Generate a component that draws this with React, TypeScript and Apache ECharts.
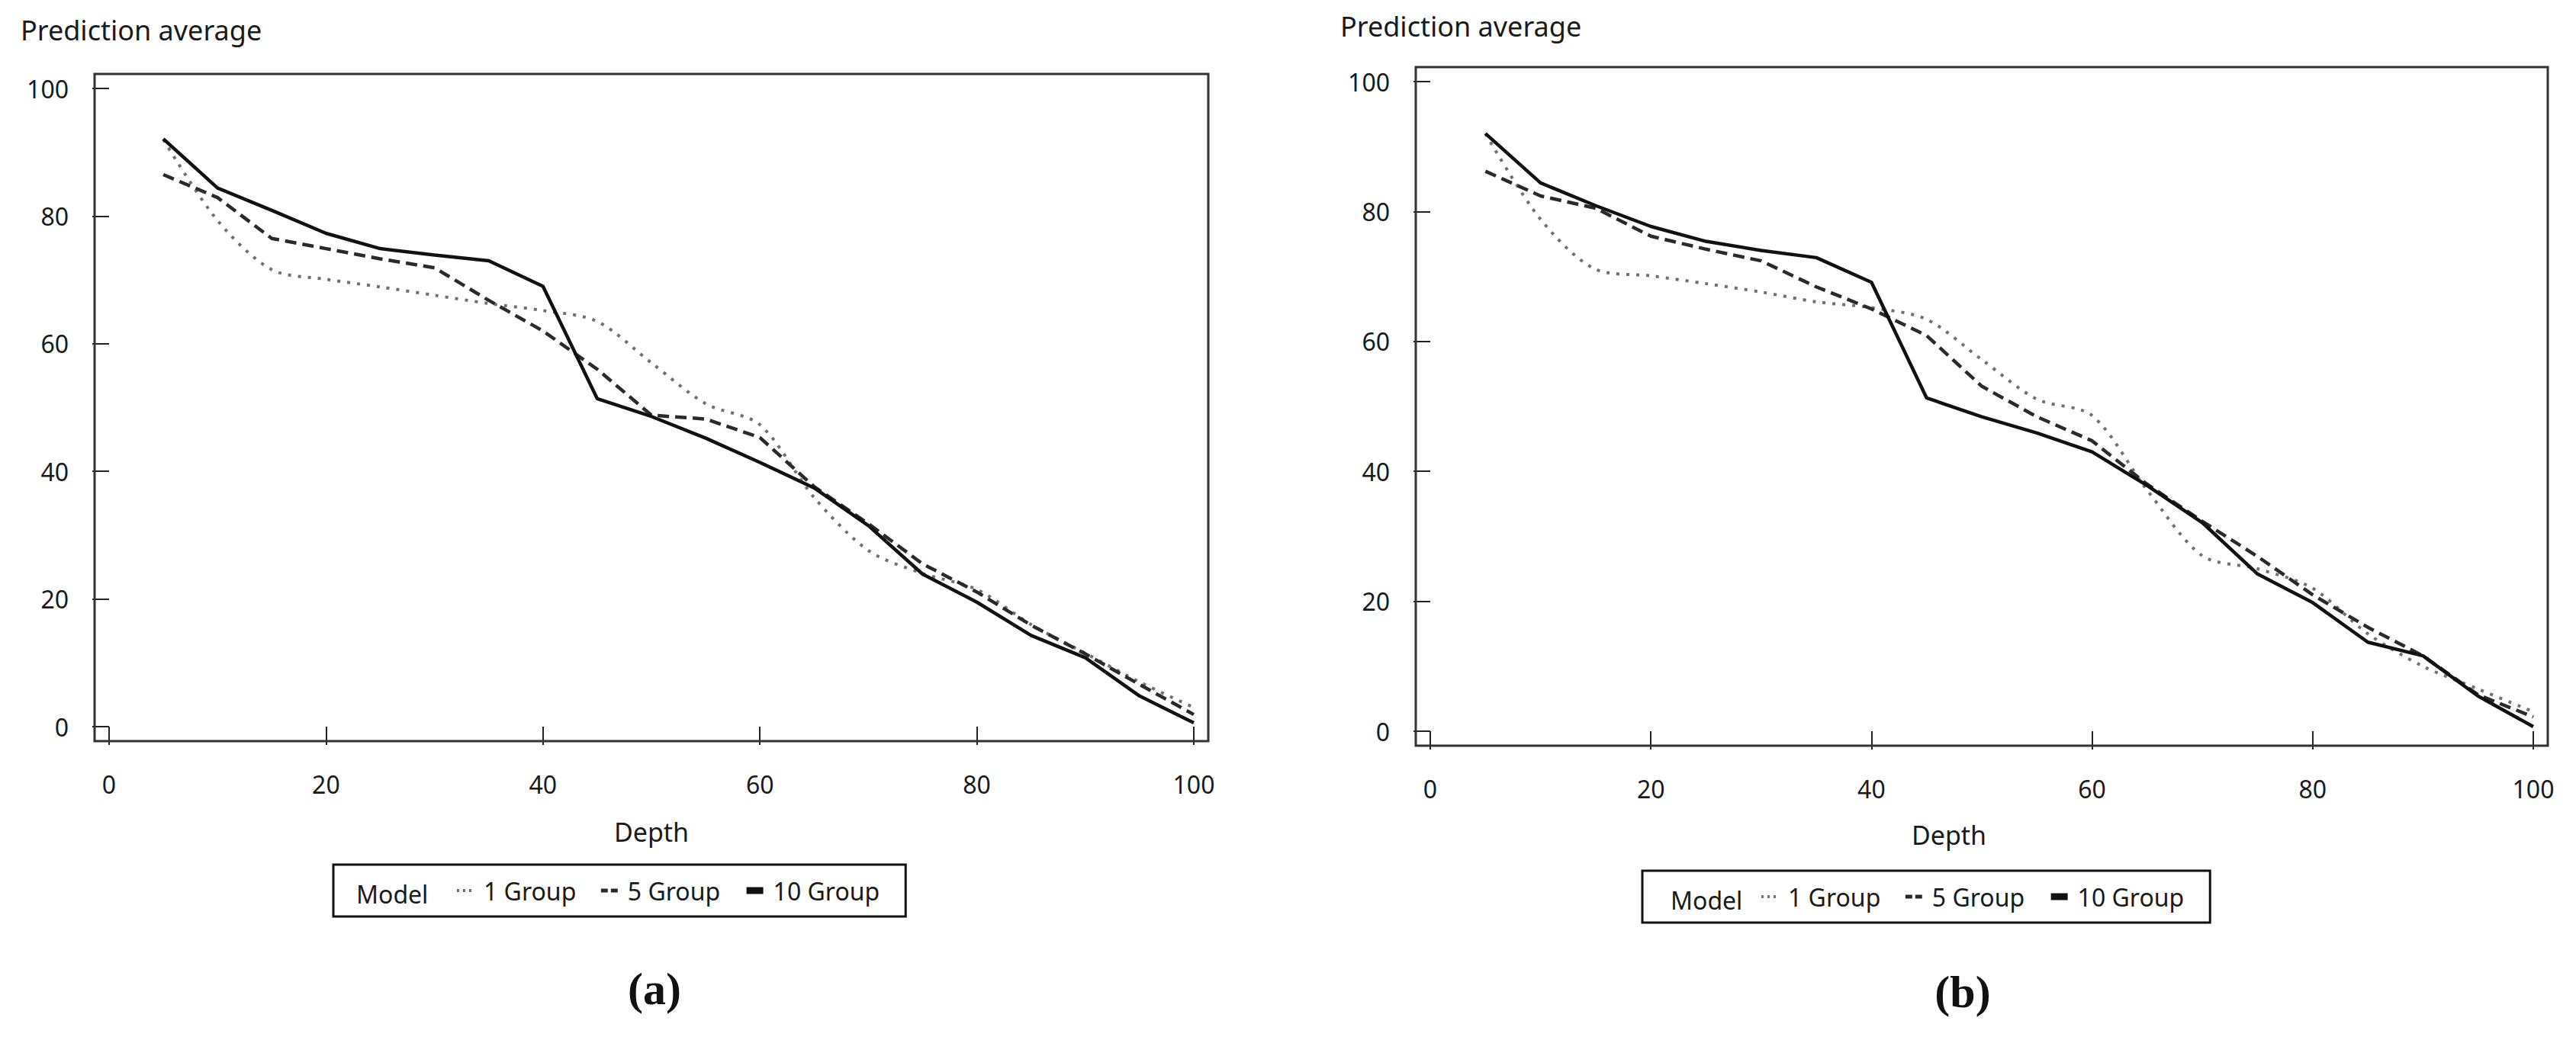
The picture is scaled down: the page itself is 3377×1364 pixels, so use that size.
import React, { useEffect, useRef } from "react";
import * as echarts from "echarts";

const depths = [5, 10, 15, 20, 25, 30, 35, 40, 45, 50, 55, 60, 65, 70, 75, 80, 85, 90, 95, 100];

const seriesNames = ["1 Group", "5 Group", "10 Group"];

// Panel (a)
const oneGroupA = [92.0, 79.3, 71.6, 70.1, 68.9, 67.6, 66.3, 65.2, 63.5, 57.0, 50.6, 47.3, 35.9, 27.6, 24.0, 21.5, 16.0, 11.5, 7.0, 3.0];
const fiveGroupA = [86.5, 82.9, 76.5, 74.9, 73.3, 71.9, 66.8, 62.0, 56.0, 48.8, 48.2, 45.3, 37.6, 31.8, 25.5, 21.1, 15.9, 11.4, 6.6, 1.9];
const tenGroupA = [92.1, 84.4, 80.9, 77.3, 74.9, 73.9, 73.0, 69.0, 51.4, 48.6, 45.2, 41.4, 37.4, 31.5, 23.9, 19.5, 14.3, 10.8, 4.8, 0.6];

// Panel (b)
const oneGroupB = [92.0, 78.8, 71.1, 70.1, 68.9, 67.6, 66.1, 65.2, 63.4, 57.2, 51.1, 48.6, 37.1, 27.0, 25.0, 22.0, 15.0, 10.0, 6.5, 3.0];
const fiveGroupB = [86.2, 82.4, 80.5, 76.2, 74.2, 72.4, 68.4, 65.0, 60.9, 53.1, 48.4, 44.7, 38.0, 32.3, 26.9, 21.0, 16.0, 11.6, 5.6, 2.2];
const tenGroupB = [92.0, 84.4, 80.9, 77.7, 75.4, 74.0, 72.9, 69.1, 51.3, 48.4, 45.9, 43.0, 37.8, 32.1, 24.2, 19.8, 13.7, 11.6, 5.4, 0.7];

const axisTicks = [0, 20, 40, 60, 80, 100];

const FONT = "'Noto Sans', 'Open Sans', sans-serif";
const TEXT = "#1a1a1a";

const lineStyles: Record<string, any> = {
  "1 Group": { color: "#707070", width: 4, type: [4, 9] },
  "5 Group": { color: "#2a2a2a", width: 4.5, type: [15, 8] },
  "10 Group": { color: "#111111", width: 4.5, type: "solid" },
};
const legendLineStyles: Record<string, any> = {
  "1 Group": { color: "#707070", width: 4, type: [3, 5] },
  "5 Group": { color: "#2a2a2a", width: 5, type: [9, 4] },
  "10 Group": { color: "#111111", width: 9, type: "solid" },
};

const panels = [
  {
    grid: { left: 143, top: 116, width: 1422, height: 837 },
    box: { x: 124, y: 97, width: 1460, height: 875 },
    title: { left: 22, top: 16 },
    tag: "a",
    tagX: 853,
    tagY: 1262,
    depthShift: 0,
    depthGap: 102,
    legend: { left: 437, top: 1134, padLeft: 160, modelX: 467 },
    data: [oneGroupA, fiveGroupA, tenGroupA],
  },
  {
    grid: { left: 1875, top: 107, width: 1446, height: 852 },
    box: { x: 1856, y: 88, width: 1484, height: 890 },
    title: { left: 1752, top: 11 },
    tag: "b",
    tagX: 2568,
    tagY: 1266,
    depthShift: 86,
    depthGap: 100,
    legend: { left: 2153, top: 1142, padLeft: 154, modelX: 2190 },
    data: [oneGroupB, fiveGroupB, tenGroupB],
  },
];

export default function App() {
  const ref = useRef<HTMLDivElement>(null);

  useEffect(() => {
    document.body.style.margin = "0";
    if (!ref.current) return;
    const chart = echarts.init(ref.current, undefined, { renderer: "svg" });

    const grids: any[] = [];
    const xAxes: any[] = [];
    const yAxes: any[] = [];
    const series: any[] = [];
    const titles: any[] = [];
    const legends: any[] = [];
    const graphics: any[] = [];

    panels.forEach((p, pi) => {
      grids.push({ ...p.grid, containLabel: false });
      xAxes.push({
        type: "value",
        gridIndex: pi,
        min: axisTicks[0],
        max: axisTicks[axisTicks.length - 1],
        interval: 20,
        offset: 19,
        name: "Depth",
        nameLocation: "middle",
        nameGap: p.depthGap,
        nameTextStyle: {
          fontFamily: FONT,
          fontSize: 34,
          color: TEXT,
          padding: [0, p.depthShift, 0, 0],
        },
        axisLine: { show: false },
        axisTick: { show: true, length: 24, lineStyle: { color: "#222", width: 2 } },
        axisLabel: { fontFamily: FONT, fontSize: 32, color: TEXT, margin: 40 },
        splitLine: { show: false },
      });
      yAxes.push({
        type: "value",
        gridIndex: pi,
        min: axisTicks[0],
        max: axisTicks[axisTicks.length - 1],
        interval: 20,
        offset: 19,
        axisLine: { show: false },
        axisTick: { show: true, length: 22, lineStyle: { color: "#222", width: 2 } },
        axisLabel: { fontFamily: FONT, fontSize: 32, color: TEXT, margin: 34 },
        splitLine: { show: false },
      });
      seriesNames.forEach((name, si) => {
        series.push({
          type: "line",
          name,
          xAxisIndex: pi,
          yAxisIndex: pi,
          symbol: "none",
          smooth: si === 0 ? 0.3 : false,
          z: 2 + si,
          lineStyle: lineStyles[name],
          itemStyle: { color: lineStyles[name].color },
          data: depths.map((d, i) => [d, p.data[si][i]]),
        });
      });
      titles.push({
        text: "Prediction average",
        left: p.title.left,
        top: p.title.top,
        textStyle: { fontFamily: FONT, fontSize: 36, fontWeight: "normal", color: TEXT },
      });
      titles.push({
        text: "{p|(}{b|" + p.tag + "}{p|)}",
        left: p.tagX,
        top: p.tagY,
        textAlign: "center",
        textStyle: {
          rich: {
            p: { fontFamily: "'Liberation Serif', serif", fontSize: 60, color: "#111" },
            b: { fontFamily: "'Liberation Serif', serif", fontSize: 60, fontWeight: "bold", color: "#111" },
          },
        },
      });
      legends.push({
        left: p.legend.left,
        top: p.legend.top,
        orient: "horizontal",
        padding: [18, 34, 18, p.legend.padLeft],
        borderColor: "#111",
        borderWidth: 3,
        itemGap: 30,
        itemWidth: 22,
        itemHeight: 12,
        selectedMode: false,
        itemStyle: { opacity: 0 },
        textStyle: { fontFamily: FONT, fontSize: 32, color: TEXT, padding: [0, 0, 0, 8] },
        data: seriesNames.map((n) => ({ name: n, lineStyle: legendLineStyles[n], itemStyle: { opacity: 0 } })),
      });
      graphics.push({
        type: "rect",
        shape: { x: p.box.x, y: p.box.y, width: p.box.width, height: p.box.height },
        style: { fill: "none", stroke: "#333", lineWidth: 3 },
        z: 10,
        silent: true,
      });
      graphics.push({
        type: "text",
        x: p.legend.modelX,
        y: p.legend.top + 38,
        style: {
          text: "Model",
          fontFamily: FONT,
          fontSize: 32,
          fill: TEXT,
          verticalAlign: "middle",
        },
        silent: true,
      });
    });

    chart.setOption({
      animation: false,
      backgroundColor: "#ffffff",
      title: titles,
      grid: grids,
      xAxis: xAxes,
      yAxis: yAxes,
      legend: legends,
      series,
      graphic: graphics,
    });

    return () => chart.dispose();
  }, []);

  return <div ref={ref} style={{ width: 3377, height: 1364 }} />;
}
